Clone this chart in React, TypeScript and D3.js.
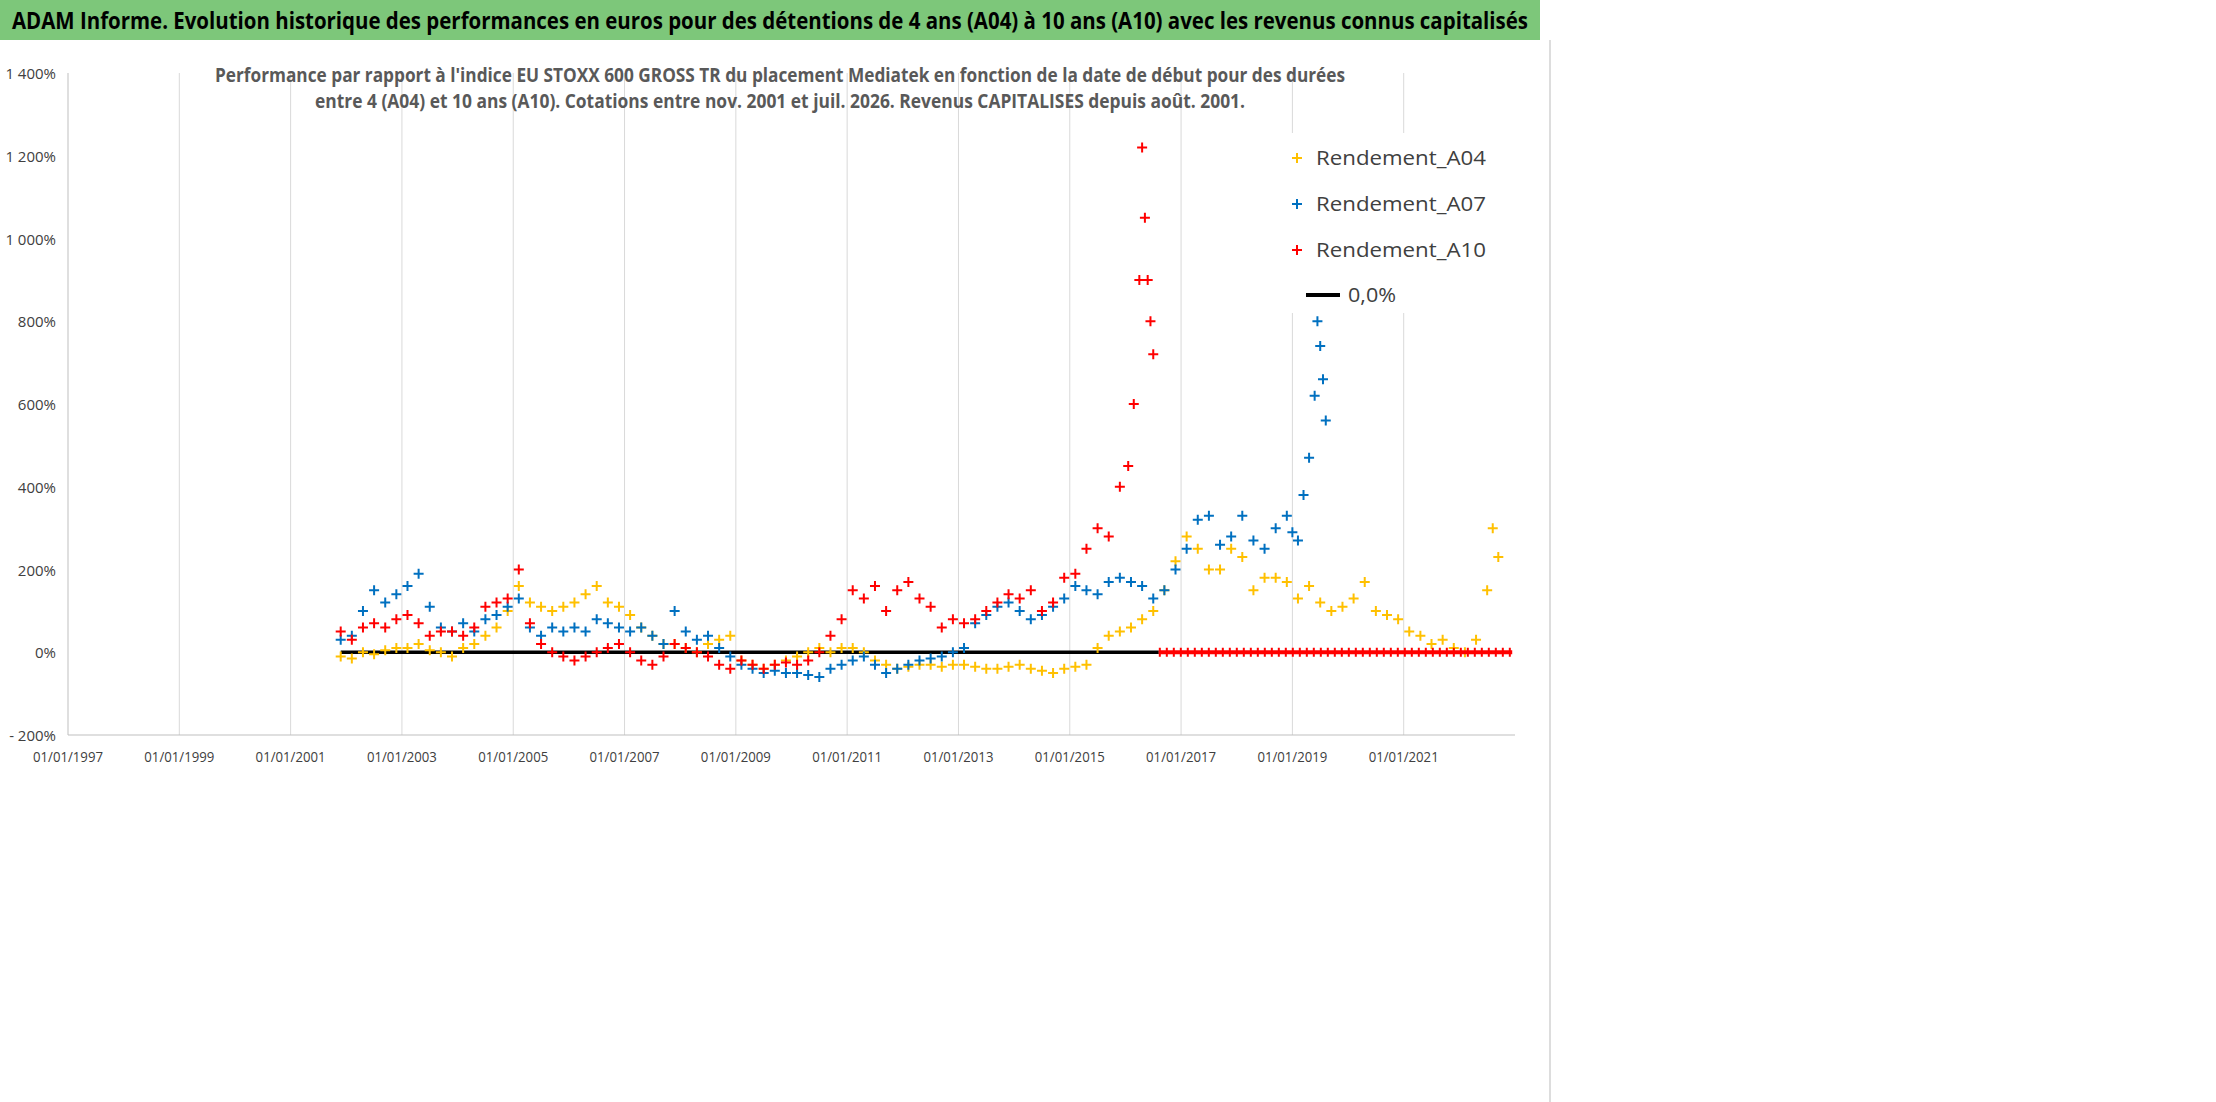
import { useEffect, useRef } from "react";
import * as d3 from "d3";

// [year (decimal), performance %]
const A04: [number, number][] = [
  [2001.9, -10], [2002.1, -15], [2002.3, 0], [2002.5, -5], [2002.7, 5], [2002.9, 10], [2003.1, 10], [2003.3, 20],
  [2003.5, 5], [2003.7, 0], [2003.9, -10], [2004.1, 10], [2004.3, 20], [2004.5, 40], [2004.7, 60], [2004.9, 100],
  [2005.1, 160], [2005.3, 120], [2005.5, 110], [2005.7, 100], [2005.9, 110], [2006.1, 120], [2006.3, 140], [2006.5, 160],
  [2006.7, 120], [2006.9, 110], [2007.1, 90], [2007.3, 60], [2007.5, 40], [2007.7, 20], [2007.9, 20], [2008.1, 10],
  [2008.3, 0], [2008.5, 20], [2008.7, 30], [2008.9, 40], [2009.1, -20], [2009.3, -30], [2009.5, -40], [2009.7, -30],
  [2009.9, -20], [2010.1, -10], [2010.3, 0], [2010.5, 10], [2010.7, 0], [2010.9, 10], [2011.1, 10], [2011.3, 0],
  [2011.5, -20], [2011.7, -30], [2011.9, -40], [2012.1, -35], [2012.3, -30], [2012.5, -30], [2012.7, -35], [2012.9, -30],
  [2013.1, -30], [2013.3, -35], [2013.5, -40], [2013.7, -40], [2013.9, -35], [2014.1, -30], [2014.3, -40], [2014.5, -45],
  [2014.7, -50], [2014.9, -40], [2015.1, -35], [2015.3, -30], [2015.5, 10], [2015.7, 40], [2015.9, 50], [2016.1, 60],
  [2016.3, 80], [2016.5, 100], [2016.7, 150], [2016.9, 220], [2017.1, 280], [2017.3, 250], [2017.5, 200], [2017.7, 200],
  [2017.9, 250], [2018.1, 230], [2018.3, 150], [2018.5, 180], [2018.7, 180], [2018.9, 170], [2019.1, 130], [2019.3, 160],
  [2019.5, 120], [2019.7, 100], [2019.9, 110], [2020.1, 130], [2020.3, 170], [2020.5, 100], [2020.7, 90], [2020.9, 80],
  [2021.1, 50], [2021.3, 40], [2021.5, 20], [2021.7, 30], [2021.9, 10], [2022.1, 0], [2022.3, 30], [2022.5, 150],
  [2022.6, 300], [2022.7, 230],
];

const A07: [number, number][] = [
  [2001.9, 30], [2002.1, 40], [2002.3, 100], [2002.5, 150], [2002.7, 120], [2002.9, 140], [2003.1, 160], [2003.3, 190],
  [2003.5, 110], [2003.7, 60], [2003.9, 50], [2004.1, 70], [2004.3, 50], [2004.5, 80], [2004.7, 90], [2004.9, 110],
  [2005.1, 130], [2005.3, 60], [2005.5, 40], [2005.7, 60], [2005.9, 50], [2006.1, 60], [2006.3, 50], [2006.5, 80],
  [2006.7, 70], [2006.9, 60], [2007.1, 50], [2007.3, 60], [2007.5, 40], [2007.7, 20], [2007.9, 100], [2008.1, 50],
  [2008.3, 30], [2008.5, 40], [2008.7, 10], [2008.9, -10], [2009.1, -30], [2009.3, -40], [2009.5, -50], [2009.7, -45],
  [2009.9, -50], [2010.1, -50], [2010.3, -55], [2010.5, -60], [2010.7, -40], [2010.9, -30], [2011.1, -20], [2011.3, -10],
  [2011.5, -30], [2011.7, -50], [2011.9, -40], [2012.1, -30], [2012.3, -20], [2012.5, -15], [2012.7, -10], [2012.9, 0],
  [2013.1, 10], [2013.3, 70], [2013.5, 90], [2013.7, 110], [2013.9, 120], [2014.1, 100], [2014.3, 80], [2014.5, 90],
  [2014.7, 110], [2014.9, 130], [2015.1, 160], [2015.3, 150], [2015.5, 140], [2015.7, 170], [2015.9, 180], [2016.1, 170],
  [2016.3, 160], [2016.5, 130], [2016.7, 150], [2016.9, 200], [2017.1, 250], [2017.3, 320], [2017.5, 330], [2017.7, 260],
  [2017.9, 280], [2018.1, 330], [2018.3, 270], [2018.5, 250], [2018.7, 300], [2018.9, 330], [2019.0, 290], [2019.1, 270],
  [2019.2, 380], [2019.3, 470], [2019.4, 620], [2019.45, 800], [2019.5, 740], [2019.55, 660], [2019.6, 560],
];

const A10: [number, number][] = [
  [2001.9, 50], [2002.1, 30], [2002.3, 60], [2002.5, 70], [2002.7, 60], [2002.9, 80], [2003.1, 90], [2003.3, 70],
  [2003.5, 40], [2003.7, 50], [2003.9, 50], [2004.1, 40], [2004.3, 60], [2004.5, 110], [2004.7, 120], [2004.9, 130],
  [2005.1, 200], [2005.3, 70], [2005.5, 20], [2005.7, 0], [2005.9, -10], [2006.1, -20], [2006.3, -10], [2006.5, 0],
  [2006.7, 10], [2006.9, 20], [2007.1, 0], [2007.3, -20], [2007.5, -30], [2007.7, -10], [2007.9, 20], [2008.1, 10],
  [2008.3, 0], [2008.5, -10], [2008.7, -30], [2008.9, -40], [2009.1, -20], [2009.3, -30], [2009.5, -40], [2009.7, -30],
  [2009.9, -25], [2010.1, -30], [2010.3, -20], [2010.5, 0], [2010.7, 40], [2010.9, 80], [2011.1, 150], [2011.3, 130],
  [2011.5, 160], [2011.7, 100], [2011.9, 150], [2012.1, 170], [2012.3, 130], [2012.5, 110], [2012.7, 60], [2012.9, 80],
  [2013.1, 70], [2013.3, 80], [2013.5, 100], [2013.7, 120], [2013.9, 140], [2014.1, 130], [2014.3, 150], [2014.5, 100],
  [2014.7, 120], [2014.9, 180], [2015.1, 190], [2015.3, 250], [2015.5, 300], [2015.7, 280], [2015.9, 400], [2016.05, 450],
  [2016.15, 600], [2016.25, 900], [2016.3, 1220], [2016.35, 1050], [2016.4, 900], [2016.45, 800], [2016.5, 720],
];

const ZERO_BLACK: [number, number] = [2001.9, 2016.6];
const ZERO_RED: [number, number] = [2016.6, 2022.95];
const X_TICKS = [1997, 1999, 2001, 2003, 2005, 2007, 2009, 2011, 2013, 2015, 2017, 2019, 2021];
const Y_TICKS = [-200, 0, 200, 400, 600, 800, 1000, 1200, 1400];

const SERIES = [
  { name: "Rendement_A04", color: "#FFC000", data: A04 },
  { name: "Rendement_A07", color: "#0070C0", data: A07 },
  { name: "Rendement_A10", color: "#FF0000", data: A10 },
];

const FONT = "'Open Sans', 'Liberation Sans', sans-serif";

export default function App() {
  const ref = useRef<SVGSVGElement | null>(null);

  useEffect(() => {
    if (!ref.current) return;
    const W = 2216, H = 1102;
    const svg = d3.select(ref.current);
    svg.selectAll("*").remove();
    svg.attr("width", W).attr("height", H);

    const fit = (sel: any, len: number) => sel.attr("textLength", len).attr("lengthAdjust", "spacingAndGlyphs");

    svg.append("rect").attr("width", W).attr("height", H).attr("fill", "#fff");
    svg.append("rect").attr("x", 0).attr("y", 0).attr("width", 1540).attr("height", 40).attr("fill", "#7DC77A");
    fit(svg.append("text").attr("x", 12).attr("y", 29)
      .attr("font-family", FONT).attr("font-weight", 700).attr("font-size", 24)
      .text("ADAM Informe. Evolution historique des performances en euros pour des détentions de 4 ans (A04) à 10 ans (A10) avec les revenus connus capitalisés"), 1516);
    svg.append("line").attr("x1", 1550).attr("x2", 1550).attr("y1", 40).attr("y2", H).attr("stroke", "#bbb");

    const x = d3.scaleLinear().domain([1997, 2023]).range([68, 1515]);
    const y = d3.scaleLinear().domain([-200, 1400]).range([735, 73]);

    svg.append("g").selectAll("line").data(X_TICKS.slice(1)).join("line")
      .attr("x1", (d) => x(d)).attr("x2", (d) => x(d)).attr("y1", y(1400)).attr("y2", y(-200))
      .attr("stroke", "#d9d9d9").attr("stroke-width", 1);
    svg.append("line").attr("x1", x(1997)).attr("x2", x(1997)).attr("y1", y(1400)).attr("y2", y(-200)).attr("stroke", "#bfbfbf");
    svg.append("line").attr("x1", x(1997)).attr("x2", x(2023)).attr("y1", y(-200)).attr("y2", y(-200)).attr("stroke", "#bfbfbf");

    svg.append("g").selectAll("text").data(Y_TICKS).join("text")
      .attr("x", 56).attr("y", (d) => y(d) + 6).attr("text-anchor", "end")
      .attr("font-family", FONT).attr("font-size", 15).attr("fill", "#404040")
      .text((d) => (d < 0 ? "- " : "") + d3.format(",")(Math.abs(d)).replace(",", " ") + "%");
    fit(svg.append("g").selectAll("text").data(X_TICKS).join("text")
      .attr("x", (d) => x(d)).attr("y", 762).attr("text-anchor", "middle")
      .attr("font-family", FONT).attr("font-size", 15).attr("fill", "#404040")
      .text((d) => `01/01/${d}`), 70);

    const sub = ["Performance par rapport à l'indice EU STOXX 600 GROSS TR  du placement Mediatek  en fonction de la date de début pour des durées",
      "entre 4 (A04) et 10 ans (A10). Cotations entre nov. 2001 et juil. 2026. Revenus CAPITALISES depuis août. 2001."];
    const subLen = [1130, 930];
    sub.forEach((s, i) => fit(svg.append("text").attr("x", 780).attr("y", 82 + i * 26).attr("text-anchor", "middle")
      .attr("font-family", FONT).attr("font-weight", 700).attr("font-size", 20).attr("fill", "#595959").text(s), subLen[i]));

    svg.append("line").attr("x1", x(ZERO_BLACK[0])).attr("x2", x(ZERO_BLACK[1])).attr("y1", y(0)).attr("y2", y(0))
      .attr("stroke", "#000").attr("stroke-width", 3.5);

    const plusPath = "M-5,0H5M0,-5V5";
    SERIES.forEach((s) => {
      svg.append("g").selectAll("path").data(s.data).join("path")
        .attr("transform", (d) => `translate(${x(d[0])},${y(d[1])})`)
        .attr("d", plusPath).attr("stroke", s.color).attr("stroke-width", 2).attr("fill", "none");
    });

    svg.append("line").attr("x1", x(ZERO_RED[0])).attr("x2", x(ZERO_RED[1])).attr("y1", y(0)).attr("y2", y(0))
      .attr("stroke", "#FF0000").attr("stroke-width", 4);
    svg.append("line").attr("x1", x(ZERO_RED[0])).attr("x2", x(ZERO_RED[1])).attr("y1", y(0)).attr("y2", y(0))
      .attr("stroke", "#FF0000").attr("stroke-width", 9).attr("stroke-dasharray", "2,5");

    const lg = svg.append("g");
    lg.append("rect").attr("x", 1280).attr("y", 133).attr("width", 235).attr("height", 180).attr("fill", "#fff");
    SERIES.forEach((s, i) => {
      const ly = 158 + i * 46;
      lg.append("path").attr("transform", `translate(1297,${ly})`).attr("d", plusPath)
        .attr("stroke", s.color).attr("stroke-width", 2);
      fit(lg.append("text").attr("x", 1316).attr("y", ly + 7).attr("font-family", FONT).attr("font-size", 20)
        .attr("fill", "#404040").text(s.name), 170);
    });
    lg.append("line").attr("x1", 1306).attr("x2", 1340).attr("y1", 295).attr("y2", 295).attr("stroke", "#000").attr("stroke-width", 4);
    fit(lg.append("text").attr("x", 1348).attr("y", 302).attr("font-family", FONT).attr("font-size", 20)
      .attr("fill", "#404040").text("0,0%"), 48);
  }, []);

  return <svg ref={ref} style={{ position: "absolute", left: 0, top: 0, display: "block" }} />;
}
